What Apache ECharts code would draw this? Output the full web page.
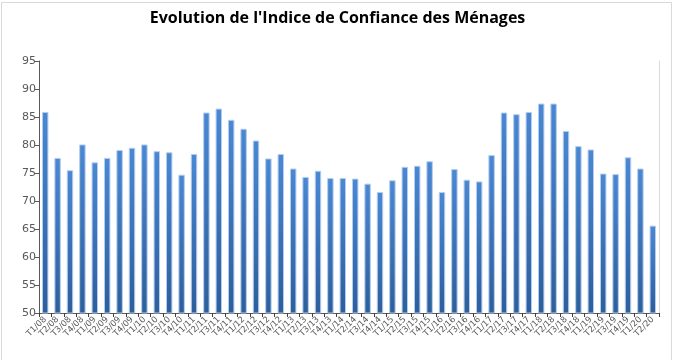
<!DOCTYPE html>
<html>
<head>
<meta charset="utf-8">
<script src="https://cdn.jsdelivr.net/npm/echarts@6/dist/echarts.min.js"></script>
<style>
html,body{margin:0;padding:0;background:#fff;}
#chart{width:675px;height:360px;}
</style>
</head>
<body>
<div id="chart"></div>
<script>
const titleText = "Evolution de l'Indice de Confiance des Ménages";
const categories = [
  "T1/08","T2/08","T3/08","T4/08","T1/09","T2/09","T3/09","T4/09",
  "T1/10","T2/10","T3/10","T4/10","T1/11","T2/11","T3/11","T4/11",
  "T1/12","T2/12","T3/12","T4/12","T1/13","T2/13","T3/13","T4/13",
  "T1/14","T2/14","T3/14","T4/14","T1/15","T2/15","T3/15","T4/15",
  "T1/16","T2/16","T3/16","T4/16","T1/17","T2/17","T3/17","T4/17",
  "T1/18","T2/18","T3/18","T4/18","T1/19","T2/19","T3/19","T4/19",
  "T1/20","T2/20"
];
const values = [
  85.9, 77.7, 75.5, 80.1, 76.9, 77.7, 79.1, 79.5,
  80.1, 78.9, 78.7, 74.7, 78.4, 85.8, 86.5, 84.5,
  82.9, 80.8, 77.6, 78.4, 75.8, 74.3, 75.4, 74.1,
  74.1, 74.0, 73.1, 71.6, 73.7, 76.1, 76.3, 77.1,
  71.6, 75.7, 73.8, 73.5, 78.2, 85.8, 85.5, 85.9,
  87.4, 87.4, 82.5, 79.8, 79.2, 74.9, 74.8, 77.8,
  75.8, 65.6
];
const yMin = 50, yMax = 95, yStep = 5;

const chart = echarts.init(document.getElementById('chart'), null, {renderer: 'canvas'});
const labelColor = '#595959';
chart.setOption({
  animation: false,
  backgroundColor: '#ffffff',
  title: {
    text: titleText,
    left: 'center',
    top: 5,
    textStyle: {fontFamily: 'Open Sans', fontWeight: 'bold', fontSize: 16, color: '#000'}
  },
  graphic: [
    {type: 'line', shape: {x1: 1.5, y1: 2.5, x2: 1.5, y2: 360}, style: {stroke: '#d9d9d9', lineWidth: 1}, silent: true},
    {type: 'line', shape: {x1: 1.5, y1: 2.5, x2: 671.5, y2: 2.5}, style: {stroke: '#d9d9d9', lineWidth: 1}, silent: true},
    {type: 'line', shape: {x1: 671.5, y1: 2.5, x2: 671.5, y2: 360}, style: {stroke: '#d9d9d9', lineWidth: 1}, silent: true}
  ],
  grid: {left: 39, right: 16, top: 61, bottom: 47, containLabel: false},
  xAxis: {
    type: 'category',
    data: categories,
    boundaryGap: true,
    axisLine: {show: true, lineStyle: {color: '#595959', width: 1}},
    axisTick: {show: true, length: 4, alignWithLabel: false, lineStyle: {color: '#404040'}},
    axisLabel: {
      interval: 0, rotate: 45, fontSize: 8.5, color: labelColor,
      fontFamily: 'DejaVu Sans', margin: 5
    }
  },
  yAxis: [
    {
      type: 'value', min: yMin, max: yMax, interval: yStep,
      axisLine: {show: true, lineStyle: {color: '#595959', width: 1}},
      axisTick: {show: true, length: 4, lineStyle: {color: '#595959'}},
      axisLabel: {fontSize: 11, color: labelColor, fontFamily: 'DejaVu Sans', margin: 3},
      splitLine: {show: false}
    },
    {
      type: 'value', min: yMin, max: yMax, interval: yStep, position: 'right',
      axisLine: {show: true, lineStyle: {color: '#d9d9d9', width: 1}},
      axisTick: {show: false}, axisLabel: {show: false}, splitLine: {show: false}
    }
  ],
  series: [{
    type: 'bar',
    data: values,
    barWidth: '52%',
    itemStyle: {
      color: new echarts.graphic.LinearGradient(0, 0, 0, 1, [
        {offset: 0, color: '#4a88d4'},
        {offset: 1, color: '#2d5e9c'}
      ]),
      borderColor: '#b5cdec',
      borderWidth: 1
    }
  }]
});
</script>
</body>
</html>
